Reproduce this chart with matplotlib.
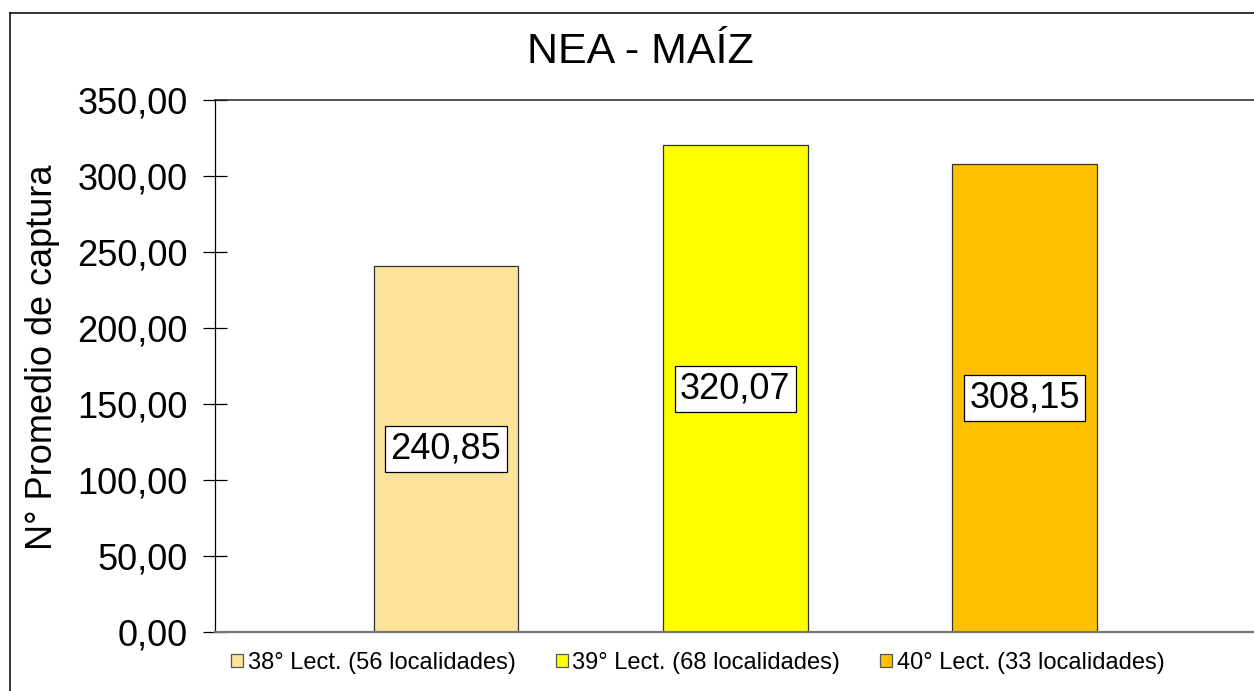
import matplotlib.pyplot as plt
from matplotlib.lines import Line2D

# data
categorias = ["38° Lect. (56 localidades)", "39° Lect. (68 localidades)", "40° Lect. (33 localidades)"]
promedios = [240.85, 320.07, 308.15]
colores = ["#FCE39B", "#FFFF00", "#FFC000"]
etiquetas = ["240,85", "320,07", "308,15"]
yticks = [0, 50, 100, 150, 200, 250, 300, 350]

plt.rcParams['font.family'] = ['Liberation Sans', 'DejaVu Sans']

fig = plt.figure(figsize=(12.54, 6.91), dpi=100)
ax = fig.add_axes([215/1254, 1-632/691, 1-215/1254, (632-100)/691])

pos = list(range(len(promedios)))
bars = ax.bar(pos, promedios, width=0.5, color=colores, edgecolor="#333333",
              linewidth=0.9, label=categorias, zorder=2)

# value labels in white boxes at the middle of each bar
for p, v, t in zip(pos, promedios, etiquetas):
    ax.text(p, v/2, t, ha="center", va="center", fontsize=26, zorder=3,
            bbox=dict(boxstyle="square,pad=0.15", facecolor="white",
                      edgecolor="black", linewidth=0.9))

ax.set_xlim(-0.7986, 2.7935)
ax.set_ylim(0, 350)
ax.set_yticks(yticks)
ax.set_yticklabels([f"{t:.2f}".replace(".", ",") for t in yticks])
ax.tick_params(axis="y", direction="inout", length=17, width=0.9, labelsize=26, pad=11)
ax.tick_params(axis="x", length=0, labelbottom=False)

ax.spines["right"].set_visible(False)
ax.spines["left"].set_color("black")
ax.spines["left"].set_linewidth(0.9)
ax.spines["top"].set_color("#222222")
ax.spines["top"].set_linewidth(1.1)
ax.spines["bottom"].set_color("#777777")
ax.spines["bottom"].set_linewidth(1.6)

fig.text(43/1254, 1-357/691, "N° Promedio de captura", rotation=90,
         ha="center", va="center", fontsize=26)
fig.text(640/1254, 1-62.7/691, "NEA - MAÍZ", ha="center", va="baseline", fontsize=31)

leg = fig.legend(handles=bars.patches, labels=categorias, ncol=3, loc="center",
                 bbox_to_anchor=(698/1254, 1-663/691), frameon=False, fontsize=17,
                 handlelength=0.5, handleheight=0.5, handletextpad=0.2,
                 columnspacing=1.7, borderpad=0)
for h in leg.legend_handles:
    h.set_edgecolor("#555555")

# chart frame (left and top edges visible)
fig.add_artist(Line2D([10/1254, 10/1254], [0, 1-13/691], color="black", lw=1.1,
                      transform=fig.transFigure))
fig.add_artist(Line2D([10/1254, 1], [1-13/691, 1-13/691], color="black", lw=1.1,
                      transform=fig.transFigure))

fig.savefig("out.png", dpi=100)
